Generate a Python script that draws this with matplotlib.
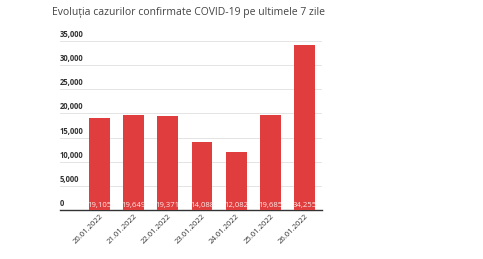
import matplotlib.pyplot as plt
import matplotlib.transforms as mtrans
from matplotlib.ticker import FuncFormatter

# date si valori
zile = ['20.01.2022', '21.01.2022', '22.01.2022', '23.01.2022',
        '24.01.2022', '25.01.2022', '26.01.2022']
cazuri = [19105, 19649, 19371, 14088, 12082, 19685, 34255]
y_ticks = [0, 5000, 10000, 15000, 20000, 25000, 30000, 35000]

plt.rcParams['font.family'] = ['Open Sans', 'DejaVu Sans']

fig = plt.figure(figsize=(4.83, 2.59), dpi=100)
ax = fig.add_axes([60 / 483, 1 - 210 / 259, 262 / 483, 178 / 259])

x = list(range(len(zile)))
ax.bar(x, cazuri, width=0.61, color='#e03e3e', zorder=3)

# etichete cu valorile in partea de jos a barelor
for xi, v in zip(x, cazuri):
    ax.text(xi, 250, f'{v:,}', ha='center', va='bottom', fontsize=5.6,
            color='#ffe6e6', zorder=4)

ax.set_xlim(-1.15, 6.51)
ax.set_ylim(0, 35000 * 178 / 169)
ax.set_yticks(y_ticks)
ax.yaxis.set_major_formatter(FuncFormatter(lambda v, p: f'{int(v):,}'))
ax.grid(axis='y', color='#e4e4e4', linewidth=0.7, zorder=0)
ax.tick_params(axis='y', length=0, pad=0, labelsize=5.5, labelcolor='#333333')

offset = mtrans.ScaledTranslation(0, 2 / 100, fig.dpi_scale_trans)
for lbl in ax.yaxis.get_majorticklabels():
    lbl.set_horizontalalignment('left')
    lbl.set_verticalalignment('bottom')
    lbl.set_fontweight('bold')
    lbl.set_transform(ax.get_yaxis_transform() + offset)
    lbl.set_x(0.0)

ax.set_xticks(x)
ax.set_xticklabels(zile, rotation=45, ha='right', rotation_mode='anchor',
                   fontsize=5.5, color='#333333')
ax.tick_params(axis='x', length=0, pad=2)

for s in ['top', 'right', 'left']:
    ax.spines[s].set_visible(False)
ax.spines['bottom'].set_color('#333333')
ax.spines['bottom'].set_linewidth(1.0)

fig.text(52 / 483, 1 - 13 / 259, 'Evoluția cazurilor confirmate COVID-19 pe ultimele 7 zile',
         fontsize=7.5, color='#444444', va='center', ha='left')

fig.savefig('out.png', dpi=100, facecolor='white')
